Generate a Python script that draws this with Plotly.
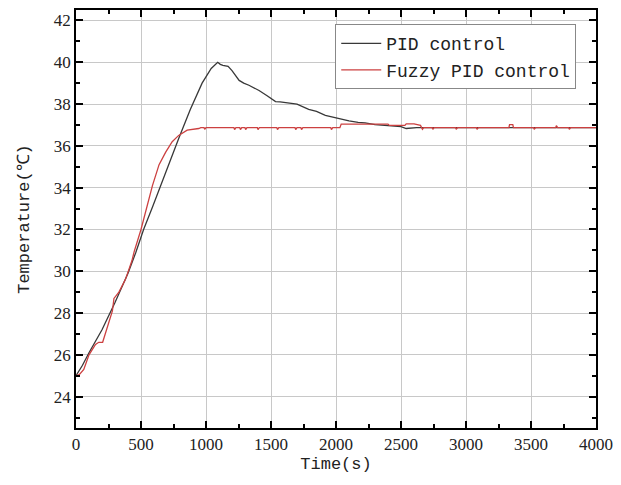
import plotly.graph_objects as go

# PID control (black) - time (s) and temperature (°C)
pid_t = [0, 50, 100, 200, 300, 400, 460, 520, 590, 650, 715, 790, 880, 970, 1040, 1090,
         1110, 1130, 1170, 1200, 1255, 1290, 1330, 1408, 1470, 1535, 1570, 1637, 1700,
         1790, 1850, 1918, 1960, 2045, 2100, 2170, 2224, 2300, 2380, 2500, 2540, 2580,
         2620, 3000, 3500, 4000]
pid_v = [25.0, 25.5, 26.1, 27.2, 28.5, 29.9, 30.9, 32.0, 33.1, 34.1, 35.1, 36.35, 37.75, 39.0,
         39.7, 40.0, 39.9, 39.85, 39.8, 39.6, 39.13, 39.0, 38.9, 38.65, 38.4, 38.12, 38.1,
         38.05, 38.0, 37.75, 37.65, 37.46, 37.4, 37.25, 37.2, 37.12, 37.1, 37.02, 36.98,
         36.92, 36.83, 36.85, 36.87, 36.87, 36.87, 36.87]

# Fuzzy PID control (red)
fz_t = [0, 25, 60, 100, 150, 175, 205, 240, 280, 292, 330, 380, 430, 448, 500, 588, 639,
        690, 740, 790, 855, 944, 960, 985, 990, 1000, 1215, 1220, 1230, 1260, 1265, 1275,
        1300, 1305, 1315, 1395, 1400, 1410, 1545, 1550, 1560, 1685, 1690, 1700, 1730, 1735,
        1745, 1960, 1965, 1975, 2030, 2040, 2400, 2410, 2530, 2540, 2600, 2650, 2660, 2665,
        2675, 2740, 2745, 2755, 2920, 2925, 2935, 3080, 3085, 3095, 3330, 3335, 3360, 3365,
        3520, 3525, 3535, 3690, 3695, 3705, 3790, 3795, 3805, 4000]
fz_v = [25.0, 25.05, 25.3, 26.0, 26.5, 26.6, 26.6, 27.35, 28.1, 28.7, 29.0, 29.6, 30.5,
        30.95, 32.0, 34.1, 35.1, 35.7, 36.2, 36.5, 36.75, 36.83, 36.87, 36.87, 36.79, 36.87,
        36.87, 36.78, 36.87, 36.87, 36.78, 36.87, 36.87, 36.78, 36.87, 36.87, 36.78, 36.87,
        36.87, 36.78, 36.87, 36.87, 36.78, 36.87, 36.87, 36.78, 36.87, 36.87, 36.78, 36.87,
        36.87, 37.04, 37.04, 36.98, 36.98, 37.05, 37.05, 36.98, 36.87, 36.79, 36.87, 36.87,
        36.79, 36.87, 36.87, 36.79, 36.87, 36.87, 36.79, 36.87, 36.87, 37.02, 37.02, 36.87,
        36.87, 36.79, 36.87, 36.87, 36.97, 36.87, 36.87, 36.79, 36.87, 36.87]

x_ticks = [0, 500, 1000, 1500, 2000, 2500, 3000, 3500, 4000]
y_ticks = [24, 26, 28, 30, 32, 34, 36, 38, 40, 42]

SERIF = "Liberation Serif"
MONO = "Liberation Mono"

fig = go.Figure()
fig.add_trace(go.Scatter(x=pid_t, y=pid_v, mode="lines", name="PID control",
                         line=dict(color="#383838", width=1.3)))
fig.add_trace(go.Scatter(x=fz_t, y=fz_v, mode="lines", name="Fuzzy PID control",
                         line=dict(color="#cc4040", width=1.3)))

axis_common = dict(
    showline=True, linecolor="black", linewidth=1.5, mirror="ticks",
    ticks="inside", ticklen=7, tickwidth=1.5, tickcolor="black",
    showgrid=True, gridcolor="#c8c8c8", gridwidth=1, zeroline=False,
    tickfont=dict(family=SERIF, size=17, color="#222222"),
)

fig.update_xaxes(
    range=[0, 4000], tickvals=x_ticks, ticktext=[str(v) for v in x_ticks],
    minor=dict(ticks="inside", ticklen=4, tickwidth=1.5, tickcolor="black", dtick=250, tick0=0, showgrid=False),
    title=dict(text="Time(s)", font=dict(family=MONO, size=17, color="#222222"), standoff=4),
    **axis_common)
fig.update_yaxes(
    range=[22.5, 42.5], tickvals=y_ticks, ticktext=[str(v) for v in y_ticks],
    minor=dict(ticks="inside", ticklen=4, tickwidth=1.5, tickcolor="black", dtick=1, tick0=0, showgrid=False),
    title=dict(text="Temperature(℃)", font=dict(family=MONO, size=17, color="#222222"), standoff=20),
    **axis_common)

fig.update_layout(
    width=621, height=485,
    margin=dict(l=76, r=22, t=8, b=57),
    paper_bgcolor="white", plot_bgcolor="white",
    showlegend=True,
    legend=dict(x=0.962, y=0.966, xanchor="right", yanchor="top",
                bgcolor="white", bordercolor="#888888", borderwidth=1,
                font=dict(family=MONO, size=18, color="#222222"),
                tracegroupgap=0, itemwidth=40),
)

fig.write_html("out.html", config={"displayModeBar": False},
               post_script="document.body.style.margin='0px';")
